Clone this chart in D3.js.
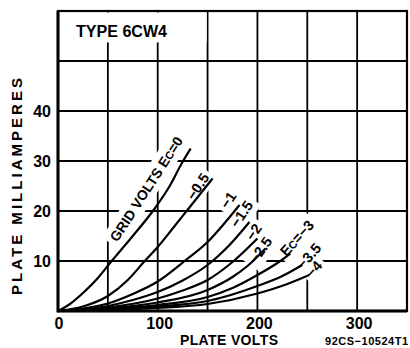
<!DOCTYPE html>
<html><head><meta charset="utf-8">
<script src="https://cdn.jsdelivr.net/npm/d3@7"></script>
<style>html,body{margin:0;padding:0;background:#fff;}svg{display:block}</style>
</head><body><svg id="c" width="410" height="348"></svg>
<script>
// ---- data ----
const xTickLabels = [0, 100, 200, 300];
const yTickLabels = [10, 20, 30, 40];
const xGridVolts = [50, 100, 150, 200, 250, 300];
const yGridMa = [10, 20, 30, 40, 50];
const gridVolts = ["0", "−0.5", "−1", "−1.5", "−2", "−2.5", "−3", "−3.5", "−4"];
const curveEc0   = [[0,0],[12,1.4],[25,3.6],[40,6.6],[53,9.8],[75,15],[97,20.5],[112,25],[124,29.5],[133,32.5]];
const curveEcM05 = [[0,0],[25,0.9],[50,3],[70,6.2],[87,10],[100,12.8],[115,16.5],[131,20.5],[145,24],[155,26.5]];
const curveEcM1  = [[0,0],[25,0.5],[50,1.5],[75,3.4],[100,5.9],[127,10],[150,13.8],[168,17.8],[182,21.2]];
const curveEcM15 = [[0,0],[50,1.0],[75,2.2],[100,3.8],[125,6.1],[150,9.2],[172,13.2],[192,17.8]];
const curveEcM2  = [[0,0],[50,0.7],[100,2.5],[125,4.1],[150,6.2],[175,9.8],[200,14.5]];
const curveEcM25 = [[0,0],[50,0.5],[100,1.7],[150,4.2],[175,6.8],[190,9.0],[208,12.5]];
const curveEcM3  = [[0,0],[50,0.4],[100,1.2],[150,2.8],[175,4.6],[200,7.2],[220,9.6],[233,11.5]];
const curveEcM35 = [[0,0],[50,0.3],[100,0.9],[150,2.0],[200,5.0],[225,7.0],[245,9.2]];
const curveEcM4  = [[0,0],[50,0.2],[100,0.6],[150,1.4],[200,3.5],[230,5.4],[252,7.2]];
const curves = [curveEc0, curveEcM05, curveEcM1, curveEcM15, curveEcM2, curveEcM25, curveEcM3, curveEcM35, curveEcM4];

// ---- layout ----
const svg = d3.select("#c");
const x = d3.scaleLinear().domain([0, 350]).range([58, 407]);
const y = d3.scaleLinear().domain([0, 60]).range([311, 11]);
const FONT = "'Liberation Sans', Arial, sans-serif";

// label placement (data units) and angles
const labelLayout = [
  {v: 88.5, i: 24.4, a: -57, pre: "GRID VOLTS ", ec: true, val: gridVolts[0], fs: 14},
  {v: 140, i: 24.9, a: -57, val: gridVolts[1]},
  {v: 170.5, i: 22.2, a: -56, val: gridVolts[2]},
  {v: 184, i: 19.4, a: -56, val: gridVolts[3]},
  {v: 196, i: 15.8, a: -56, val: gridVolts[4]},
  {v: 203, i: 12.2, a: -55, val: gridVolts[5]},
  {v: 239.5, i: 14.6, a: -48, ec: true, val: gridVolts[6]},
  {v: 251.5, i: 11, a: -48, val: gridVolts[7]},
  {v: 256.5, i: 8.4, a: -48, val: gridVolts[8]}
];

const gridG = svg.append("g");
gridG.selectAll("line.v").data(xGridVolts).join("line")
  .attr("x1", d => x(d)).attr("x2", d => x(d)).attr("y1", y(0)).attr("y2", y(60))
  .attr("stroke", "#000").attr("stroke-width", 1.8);
gridG.selectAll("line.h").data(yGridMa).join("line")
  .attr("x1", x(0)).attr("x2", x(350)).attr("y1", d => y(d)).attr("y2", d => y(d))
  .attr("stroke", "#000").attr("stroke-width", 1.8);

const bgG = svg.append("g");
const curveG = svg.append("g");
const textG = svg.append("g");

// title box
bgG.append("rect").attr("x", x(0) + 1).attr("y", y(60) + 1.5).attr("width", x(100) - x(0) + 48).attr("height", 30).attr("fill", "#fff");
textG.append("text").attr("x", 76).attr("y", 37).attr("font-family", FONT).attr("font-weight", "bold")
  .attr("font-size", 16).attr("textLength", 91).attr("lengthAdjust", "spacingAndGlyphs").text("TYPE 6CW4");

// curves
const line = d3.line().x(d => x(d[0])).y(d => y(d[1])).curve(d3.curveMonotoneX);
curveG.selectAll("path").data(curves).join("path")
  .attr("d", line).attr("fill", "none").attr("stroke", "#000").attr("stroke-width", 2.2);

// curve labels
labelLayout.forEach(L => {
  const t = textG.append("text")
    .attr("transform", `translate(${x(L.v)},${y(L.i)}) rotate(${L.a})`)
    .attr("text-anchor", "middle").attr("dy", "0.36em")
    .attr("font-family", FONT).attr("font-weight", "bold").attr("font-size", L.fs || 14.5);
  if (L.pre) t.append("tspan").text(L.pre);
  if (L.ec) {
    t.append("tspan").text("E");
    t.append("tspan").attr("font-size", 11).text("C");
    t.append("tspan").text("=" + L.val);
  } else {
    t.append("tspan").text(L.val);
  }
  const b = t.node().getBBox();
  bgG.append("rect")
    .attr("transform", `translate(${x(L.v)},${y(L.i)}) rotate(${L.a})`)
    .attr("x", b.x - 4).attr("y", b.y - 3).attr("width", b.width + 8).attr("height", b.height + 6)
    .attr("fill", "#fff");
});

// frame
svg.append("rect").attr("x", x(0)).attr("y", y(60)).attr("width", x(350) - x(0)).attr("height", y(0) - y(60))
  .attr("fill", "none").attr("stroke", "#000").attr("stroke-width", 2.2);
svg.append("line").attr("x1", x(0)).attr("x2", x(0)).attr("y1", y(60)).attr("y2", y(0) + 1.5)
  .attr("stroke", "#000").attr("stroke-width", 3);
svg.append("line").attr("x1", x(0)).attr("x2", x(350)).attr("y1", y(0)).attr("y2", y(0))
  .attr("stroke", "#000").attr("stroke-width", 3);

// tick labels
textG.selectAll("text.xt").data(xTickLabels).join("text").attr("class", "xt")
  .attr("x", d => x(d) + (d === 0 ? 1 : 2)).attr("y", 329).attr("text-anchor", "middle")
  .attr("font-family", FONT).attr("font-weight", "bold").attr("font-size", 16).text(d => d);
textG.selectAll("text.yt").data(yTickLabels).join("text").attr("class", "yt")
  .attr("x", 51).attr("y", d => y(d) + 6).attr("text-anchor", "end")
  .attr("font-family", FONT).attr("font-weight", "bold").attr("font-size", 16).text(d => d);

// axis titles
textG.append("text").attr("x", 180).attr("y", 345).attr("font-family", FONT).attr("font-weight", "bold")
  .attr("font-size", 14).attr("textLength", 98).attr("lengthAdjust", "spacing").text("PLATE VOLTS");
textG.append("text").attr("x", 325).attr("y", 345).attr("font-family", FONT).attr("font-weight", "bold")
  .attr("font-size", 11).attr("textLength", 83).attr("lengthAdjust", "spacing").text("92CS−10524T1");
textG.append("text").attr("transform", "translate(22,295) rotate(-90)").attr("font-family", FONT)
  .attr("font-weight", "bold").attr("font-size", 15).attr("textLength", 217).attr("lengthAdjust", "spacing")
  .text("PLATE MILLIAMPERES");
</script></body></html>
